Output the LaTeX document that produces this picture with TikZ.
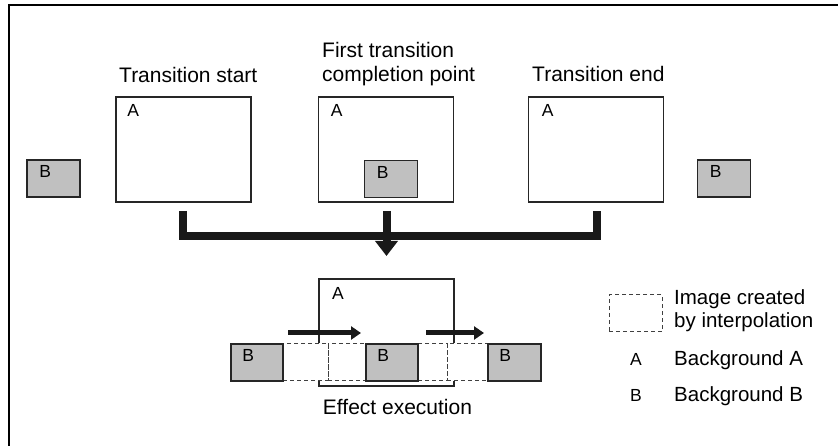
\documentclass[tikz,border=0pt]{standalone}
\usepackage{fontspec}
\setmainfont{Liberation Sans}
\usetikzlibrary{arrows.meta}
\definecolor{bgB}{RGB}{192,192,192}
\begin{document}
\begin{tikzpicture}[x=1pt,y=1pt,
  bigbox/.style={draw=black!85,line width=1.6pt,minimum width=135pt,minimum height=105pt,inner sep=0pt},
  bbox/.style={draw=black!85,line width=1.6pt,fill=bgB,minimum width=53pt,minimum height=37pt,inner sep=0pt},
  ibox/.style={draw=black!75,line width=1pt,dash pattern=on 4pt off 3pt,minimum height=37pt,inner sep=0pt},
  head/.style={font=\fontsize{21}{24}\selectfont,inner sep=0pt,anchor=base west},
  letter/.style={font=\fontsize{17.5}{20}\selectfont,inner sep=0pt,anchor=base west},
  legtxt/.style={font=\fontsize{20.5}{23}\selectfont,inner sep=0pt,anchor=base west},
  bar/.style={line width=8pt,black!90},
  mv/.style={line width=5pt,black!90,-{Triangle[width=13pt,length=10pt]}}]
\useasboundingbox (0,0) rectangle (838,446);
% frame
\draw[line width=2pt] (8.5,0) -- (8.5,440.5) -- (838,440.5);
% top boxes
\node[bigbox] (b1) at (183.5,296.5) {};
\node[bigbox] (b2) at (386,296.5) {};
\node[bigbox] (b3) at (596,296.5) {};
\node[letter] (a1) at ([xshift=12pt,yshift=-20pt]b1.north west) {A};
\node[letter] (a2) at ([xshift=13pt,yshift=-20pt]b2.north west) {A};
\node[letter] (a3) at ([xshift=14pt,yshift=-20pt]b3.north west) {A};
\node[bbox] (sbL) at (53.5,267.5) {};
\node[bbox] (sbM) at (391,267) {};
\node[bbox] (sbR) at (724,267.5) {};
\foreach \n in {sbL,sbM,sbR}{
  \node[letter] at ([xshift=13pt,yshift=-18.5pt]\n.north west) {B};
}
% headings
\node[head] (h1) at (119,363) {Transition start};
\node[head] (h2a) at (322,388) {First transition};
\node[head] (h2b) at (322,364) {completion point};
\node[head] (h3) at (532,364) {Transition end};
% connector bars
\coordinate (c1) at (183,235);
\coordinate (c2) at (386.5,235);
\coordinate (c3) at (597,235);
\coordinate (hb) at (0,209.5);
\coordinate (tip) at (386.5,190);
\draw[bar,miter limit=10] (c1) -- (c1 |- hb) -| (c3);
\draw[bar,-{Triangle[width=22pt,length=15pt]}] (c2) -- (tip);
% lower: interpolation images
\node[ibox,minimum width=45pt] (i1) at (305.5,83.5) {};
\node[ibox,minimum width=38pt] (i2) at (347,83.5) {};
\node[ibox,minimum width=29pt] (i3) at (432.5,83.5) {};
\node[ibox,minimum width=41pt] (i4) at (467.5,83.5) {};
% lower: A
\node[minimum width=135pt,minimum height=64pt,inner sep=0pt] (lA) at (386.5,135) {};
\draw[black!85,line width=1.6pt] (lA.south west) |- (lA.north east) -- (lA.south east);
\node[letter] (la) at ([xshift=13pt,yshift=-21pt]lA.north west) {A};
% lower: B
\node[bbox,minimum width=52pt] (rB1) at (257,83.5) {};
\node[bbox,minimum width=52pt] (rB2) at (392,83.5) {};
\node[bbox,minimum width=53pt] (rB3) at (514.5,83.5) {};
\foreach \n in {rB1,rB2,rB3}{
  \node[letter] at ([xshift=12pt,yshift=-18.5pt]\n.north west) {B};
}
% bracket
\coordinate (k1) at (319,65);
\coordinate (k2) at (454,65);
\draw[black!85,line width=1.6pt] (k1) -- ++(0,-5) -| (k2);
\node[head,anchor=base] (eff) at (397.5,31) {Effect execution};
% movement arrows
\coordinate (m1s) at (288,113);
\coordinate (m1e) at (361,113);
\coordinate (m2s) at (426,113);
\coordinate (m2e) at (484,113);
\draw[mv] (m1s) -- (m1e);
\draw[mv] (m2s) -- (m2e);
% legend
\node[ibox,minimum width=53pt] (lg) at (635.5,132.5) {};
\node[legtxt] (l1) at (674,141) {Image created};
\node[legtxt] (l2) at (674,118) {by interpolation};
\node[font=\fontsize{17.5}{20}\selectfont,inner sep=0pt,anchor=base] (lgA) at (636,80) {A};
\node[legtxt] (l3) at (674,80) {Background A};
\node[font=\fontsize{17.5}{20}\selectfont,inner sep=0pt,anchor=base] (lgB) at (636,44) {B};
\node[legtxt] (l4) at (674,44) {Background B};
\end{tikzpicture}
\end{document}
